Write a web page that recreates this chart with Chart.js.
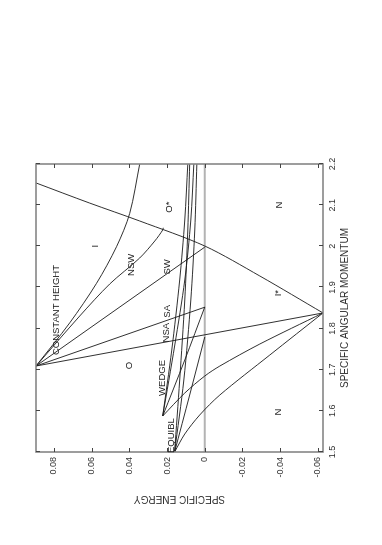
<!DOCTYPE html>
<html>
<head>
<meta charset="utf-8">
<script src="https://cdn.jsdelivr.net/npm/chart.js@4"></script>
<style>
  html, body { margin: 0; padding: 0; background: #fff; overflow: hidden; }
  /* the plot is drawn upright, then the whole thing is turned a quarter to the left */
  #wrap { position: absolute; left: 0; top: 545px; width: 545px; height: 382px;
          transform-origin: 0 0; transform: rotate(-90deg); }
</style>
</head>
<body>
<div id="wrap"><canvas id="chartPhase" width="545" height="382"></canvas></div>
<script>
// axis ticks
var momentumTicks = [1.5, 1.6, 1.7, 1.8, 1.9, 2.0, 2.1, 2.2];
var energyTicks = [-0.06, -0.04, -0.02, 0, 0.02, 0.04, 0.06, 0.08];

// curves, as [specific angular momentum, specific energy]
var outerBoundary = [[2.154, 0.0895], [2.105, 0.061], [2.0615, 0.0345], [2.0007, 0.0], [1.9278, -0.0292], [1.838, -0.0627]];
var nswUpper = [[1.709, 0.0895], [1.814, 0.0716], [1.910, 0.0574], [1.999, 0.0468], [2.080, 0.0398], [2.2, 0.0345]];
var swUpper = [[1.709, 0.0895], [1.8306, 0.0663], [1.9084, 0.0504], [1.9716, 0.0345], [2.0129, 0.0265], [2.0396, 0.0223], [2.045, 0.0220]];
var saUpper = [[1.709, 0.0895], [1.998, 0.0]];
var nsaUpper = [[1.709, 0.0895], [1.852, 0.0]];
var cuspLine = [[1.709, 0.0895], [1.838, -0.0627]];
var wedgeToCusp = [[1.838, -0.0627], [1.7625, -0.0292], [1.709, -0.008], [1.6847, 0.0], [1.6434, 0.0106], [1.5875, 0.0223]];
var equiblToCusp = [[1.838, -0.0627], [1.7358, -0.0345], [1.6386, -0.008], [1.5899, 0.0027], [1.5438, 0.0106], [1.5, 0.016]];
var wedgeRise1 = [[1.5875, 0.0223], [1.7479, 0.0175], [1.9181, 0.0133], [2.0639, 0.0106], [2.2, 0.0090]];
var wedgeRise2 = [[1.5875, 0.0223], [1.7601, 0.0159], [1.9181, 0.0106], [2.0639, 0.0074], [2.2, 0.0058]];
var wedgeToZero = [[1.5875, 0.0223], [1.7236, 0.0106], [1.8525, 0.0]];
var equiblRise1 = [[1.5, 0.016], [1.675, 0.0133], [1.8695, 0.0106], [2.0396, 0.0090], [2.2, 0.0080]];
var equiblRise2 = [[1.5, 0.016], [1.675, 0.0111], [1.8695, 0.0074], [2.0396, 0.0053], [2.2, 0.0042]];
var equiblToZero = [[1.5, 0.016], [1.6386, 0.008], [1.7795, 0.0]];
var zeroEnergy = [[1.5, 0], [2.2, 0]];

// region names and where they sit
var regionNames = ['CONSTANT HEIGHT', 'I', 'NSW', 'O', 'O*', 'SW', 'SA', 'NSA', 'WEDGE', 'EQUIBL', 'N', 'I*', 'N'];
var regionMomentum = [1.845, 2.0, 1.955, 1.71, 2.095, 1.95, 1.842, 1.79, 1.68, 1.54, 2.1, 1.886, 1.597];
var regionEnergy = [0.0785, 0.058, 0.039, 0.0398, 0.019, 0.020, 0.020, 0.0202, 0.0225, 0.0178, -0.0398, -0.039, -0.039];

var fontName = '"Liberation Sans", Arial, sans-serif';

function toPoints(pairs) {
  return pairs.map(function(p) { return {x: p[0], y: p[1]}; });
}

function curve(pairs, tension) {
  return {
    data: toPoints(pairs),
    showLine: true,
    pointRadius: 0,
    borderColor: '#1a1a1a',
    borderWidth: 0.9,
    tension: tension || 0,
    order: 1
  };
}

/* frame with inward ticks on all four sides, plus the region names */
var framePlugin = {
  id: 'frame',
  afterDatasetsDraw: function(chart) {
    var ctx = chart.ctx;
    var a = chart.chartArea;
    var xs = chart.scales.x, ys = chart.scales.y;
    ctx.save();
    ctx.strokeStyle = '#858585';
    ctx.lineWidth = 1.6;
    ctx.strokeRect(a.left, a.top, a.right - a.left, a.bottom - a.top);

    ctx.strokeStyle = '#444';
    ctx.lineWidth = 1;
    ctx.beginPath();
    momentumTicks.forEach(function(v) {
      var px = Math.round(xs.getPixelForValue(v)) + 0.5;
      ctx.moveTo(px, a.bottom); ctx.lineTo(px, a.bottom - 4);
      ctx.moveTo(px, a.top); ctx.lineTo(px, a.top + 4);
    });
    energyTicks.forEach(function(v) {
      var py = Math.round(ys.getPixelForValue(v)) + 0.5;
      ctx.moveTo(a.left, py); ctx.lineTo(a.left + 4, py);
      ctx.moveTo(a.right, py); ctx.lineTo(a.right - 4, py);
    });
    ctx.stroke();

    ctx.fillStyle = '#222';
    ctx.font = '9.5px ' + fontName;
    ctx.textAlign = 'center';
    ctx.textBaseline = 'middle';
    for (var i = 0; i < regionNames.length; i++) {
      ctx.fillText(regionNames[i], xs.getPixelForValue(regionMomentum[i]), ys.getPixelForValue(regionEnergy[i]));
    }
    ctx.restore();
  }
};

function createPhaseChart() {
  var ctx = document.getElementById('chartPhase').getContext('2d');
  var zeroSet = curve(zeroEnergy);
  zeroSet.borderColor = '#b3b3b3';
  zeroSet.borderWidth = 2;
  zeroSet.order = 5;

  new Chart(ctx, {
    type: 'scatter',
    data: {
      datasets: [
        zeroSet,
        curve(outerBoundary, 0.3),
        curve(nswUpper, 0.3),
        curve(swUpper, 0.3),
        curve(saUpper),
        curve(nsaUpper),
        curve(cuspLine),
        curve(wedgeToCusp, 0.3),
        curve(equiblToCusp, 0.3),
        curve(wedgeRise1, 0.3),
        curve(wedgeRise2, 0.3),
        curve(wedgeToZero, 0.3),
        curve(equiblRise1, 0.3),
        curve(equiblRise2, 0.3),
        curve(equiblToZero, 0.3)
      ]
    },
    options: {
      responsive: false,
      animation: false,
      devicePixelRatio: 1,
      layout: { padding: { left: 36, right: 164, top: 36, bottom: 29 } },
      plugins: { legend: { display: false }, tooltip: { enabled: false } },
      scales: {
        x: {
          type: 'linear', position: 'bottom', min: 1.5, max: 2.2,
          grid: { display: false, drawTicks: false },
          border: { display: false },
          ticks: {
            color: '#333', font: { family: fontName, size: 9 }, padding: 4,
            autoSkip: false, maxRotation: 0,
            callback: function(v) { return String(+v.toFixed(1)); }
          },
          afterBuildTicks: function(s) { s.ticks = momentumTicks.map(function(v) { return {value: v}; }); },
          afterFit: function(s) { s.height = 30; },
          title: { display: true, text: 'SPECIFIC ANGULAR MOMENTUM', color: '#333',
                   font: { family: fontName, size: 10 }, padding: { top: 0, bottom: 2 } }
        },
        y: {
          type: 'linear', position: 'left', min: -0.0627, max: 0.0895,
          grid: { display: false, drawTicks: false },
          border: { display: false },
          ticks: {
            color: '#333', font: { family: fontName, size: 9 }, padding: 5,
            autoSkip: false,
            callback: function(v) { return v === 0 ? '0' : v.toFixed(2); }
          },
          afterBuildTicks: function(s) { s.ticks = energyTicks.map(function(v) { return {value: v}; }); },
          afterFit: function(s) { s.width = 57; },
          title: { display: true, text: 'SPECIFIC ENERGY', color: '#333',
                   font: { family: fontName, size: 10 }, padding: { top: 4, bottom: 0 } }
        }
      }
    },
    plugins: [framePlugin]
  });
}

createPhaseChart();
</script>
</body>
</html>
